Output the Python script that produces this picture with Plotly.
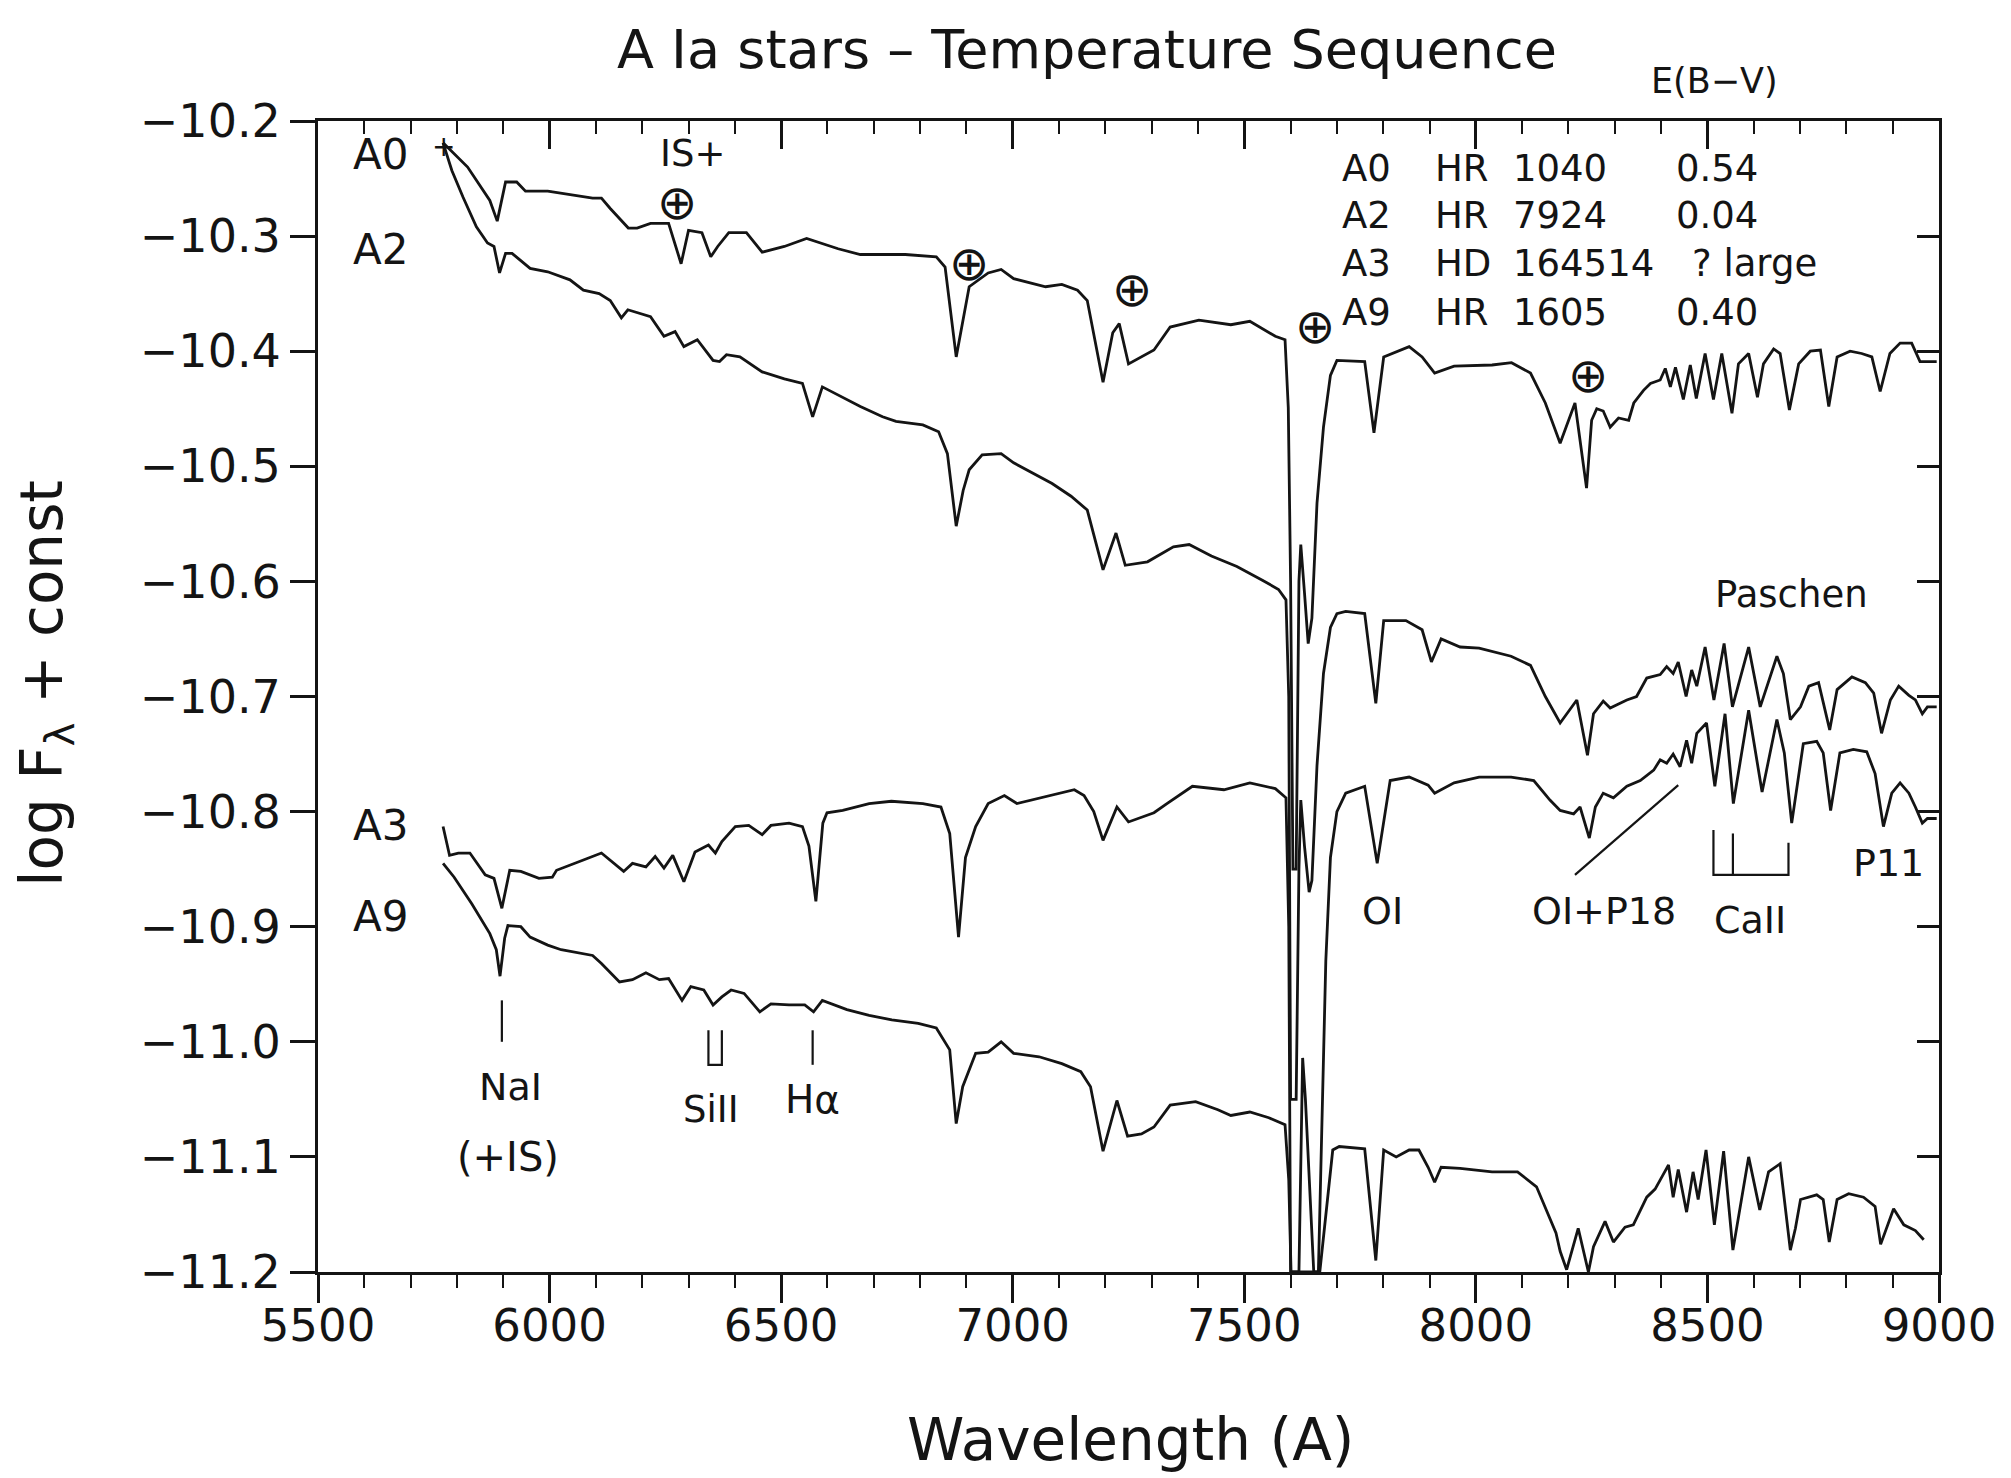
import plotly.graph_objects as go

# ---------------- data ----------------
a0_wavelength = [5770, 5823, 5871, 5887, 5905, 5929, 5948, 5996, 6093, 6112, 6131, 6170, 6189, 6218, 6257, 6284,
                 6300, 6329, 6348, 6363, 6387, 6425, 6459, 6507, 6555, 6623, 6671, 6768, 6835, 6854, 6878, 6906,
                 6947, 6975, 7002, 7071, 7106, 7140, 7161, 7195, 7216, 7230, 7250, 7277, 7305, 7340, 7402, 7471,
                 7512, 7567, 7588, 7595, 7600, 7605, 7612, 7618, 7622, 7630, 7638, 7646, 7657, 7671, 7686, 7700,
                 7760, 7780, 7801, 7856, 7884, 7911, 7953, 8035, 8077, 8118, 8150, 8182, 8214, 8239, 8250, 8261,
                 8275, 8290, 8308, 8330, 8341, 8362, 8377, 8398, 8409, 8420, 8431, 8448, 8463, 8476, 8495, 8513,
                 8531, 8553, 8567, 8589, 8608, 8621, 8643, 8657, 8677, 8697, 8722, 8744, 8762, 8780, 8808, 8833,
                 8855, 8873, 8894, 8916, 8941, 8959, 8970, 8995]
a0_logflux = [-10.219, -10.240, -10.269, -10.287, -10.253, -10.253, -10.261, -10.261, -10.267, -10.267, -10.276,
              -10.293, -10.293, -10.289, -10.289, -10.324, -10.295, -10.297, -10.318, -10.309, -10.297, -10.297,
              -10.314, -10.309, -10.302, -10.311, -10.316, -10.316, -10.318, -10.327, -10.405, -10.344, -10.332,
              -10.329, -10.337, -10.344, -10.342, -10.347, -10.356, -10.427, -10.384, -10.376, -10.411, -10.405,
              -10.399, -10.379, -10.373, -10.377, -10.374, -10.387, -10.390, -10.449, -10.600, -10.850, -10.850,
              -10.600, -10.568, -10.610, -10.654, -10.632, -10.532, -10.466, -10.421, -10.408, -10.409, -10.471,
              -10.405, -10.396, -10.405, -10.419, -10.413, -10.412, -10.410, -10.419, -10.445, -10.480, -10.445,
              -10.519, -10.460, -10.450, -10.452, -10.466, -10.458, -10.460, -10.445, -10.434, -10.428, -10.425,
              -10.415, -10.431, -10.414, -10.442, -10.412, -10.441, -10.402, -10.442, -10.402, -10.454, -10.411,
              -10.402, -10.440, -10.411, -10.398, -10.402, -10.451, -10.411, -10.400, -10.399, -10.448, -10.405,
              -10.400, -10.402, -10.405, -10.435, -10.402, -10.393, -10.393, -10.409, -10.409, -10.409]

a2_wavelength = [5770, 5789, 5813, 5842, 5866, 5880, 5892, 5905, 5919, 5958, 5996, 6044, 6073, 6107, 6131, 6155,
                 6169, 6218, 6247, 6271, 6290, 6319, 6353, 6367, 6382, 6411, 6459, 6507, 6546, 6568, 6589, 6633,
                 6671, 6719, 6748, 6806, 6840, 6859, 6878, 6893, 6906, 6934, 6975, 7002, 7044, 7085, 7126, 7161,
                 7195, 7223, 7243, 7291, 7347, 7381, 7429, 7484, 7539, 7574, 7590, 7596, 7600, 7612, 7618, 7622,
                 7630, 7640, 7646, 7657, 7671, 7686, 7700, 7719, 7760, 7784, 7801, 7849, 7884, 7904, 7925, 7966,
                 8007, 8076, 8118, 8150, 8182, 8218, 8241, 8254, 8275, 8290, 8326, 8347, 8369, 8398, 8412, 8426,
                 8437, 8454, 8466, 8477, 8495, 8514, 8536, 8554, 8589, 8614, 8650, 8664, 8679, 8701, 8719, 8740,
                 8764, 8780, 8812, 8841, 8859, 8876, 8895, 8913, 8935, 8949, 8964, 8975, 8995]
a2_logflux = [-10.219, -10.243, -10.266, -10.292, -10.306, -10.309, -10.332, -10.315, -10.315, -10.328, -10.331,
              -10.338, -10.347, -10.350, -10.356, -10.371, -10.364, -10.370, -10.387, -10.383, -10.396, -10.390,
              -10.408, -10.409, -10.403, -10.405, -10.418, -10.424, -10.428, -10.457, -10.431, -10.440, -10.448,
              -10.457, -10.461, -10.464, -10.470, -10.489, -10.552, -10.521, -10.503, -10.490, -10.489, -10.497,
              -10.506, -10.515, -10.526, -10.538, -10.590, -10.558, -10.586, -10.583, -10.570, -10.568, -10.578,
              -10.587, -10.599, -10.607, -10.616, -10.700, -11.050, -11.050, -10.850, -10.790, -10.830, -10.870,
              -10.860, -10.760, -10.680, -10.640, -10.628, -10.626, -10.628, -10.706, -10.634, -10.634, -10.642,
              -10.670, -10.650, -10.657, -10.658, -10.665, -10.673, -10.700, -10.723, -10.703, -10.751, -10.715,
              -10.704, -10.710, -10.703, -10.700, -10.684, -10.681, -10.674, -10.680, -10.670, -10.700, -10.677,
              -10.691, -10.657, -10.703, -10.654, -10.709, -10.657, -10.709, -10.665, -10.680, -10.720, -10.709,
              -10.691, -10.688, -10.729, -10.694, -10.683, -10.688, -10.697, -10.732, -10.703, -10.691, -10.699,
              -10.703, -10.715, -10.709, -10.709]

a3_wavelength = [5770, 5779, 5784, 5803, 5828, 5861, 5880, 5897, 5914, 5938, 5977, 6006, 6015, 6073, 6112, 6160,
                 6179, 6208, 6228, 6247, 6266, 6290, 6314, 6343, 6358, 6372, 6401, 6430, 6459, 6478, 6517, 6546,
                 6560, 6575, 6590, 6599, 6633, 6690, 6738, 6806, 6845, 6864, 6883, 6898, 6920, 6947, 6982, 7009,
                 7071, 7133, 7154, 7175, 7195, 7225, 7250, 7305, 7333, 7388, 7456, 7512, 7567, 7590, 7596, 7600,
                 7618, 7626, 7632, 7642, 7650, 7660, 7668, 7676, 7686, 7700, 7719, 7760, 7787, 7815, 7856, 7897,
                 7911, 7953, 8007, 8076, 8125, 8160, 8182, 8211, 8225, 8245, 8258, 8275, 8297, 8326, 8355, 8384,
                 8398, 8412, 8426, 8441, 8455, 8466, 8477, 8498, 8516, 8538, 8556, 8589, 8618, 8650, 8666, 8682,
                 8707, 8736, 8750, 8766, 8786, 8815, 8844, 8862, 8880, 8898, 8916, 8935, 8949, 8964, 8975, 8995]
a3_logflux = [-10.813, -10.828, -10.838, -10.836, -10.836, -10.855, -10.858, -10.884, -10.851, -10.852, -10.858,
              -10.857, -10.851, -10.842, -10.836, -10.852, -10.845, -10.848, -10.839, -10.849, -10.838, -10.861,
              -10.835, -10.829, -10.836, -10.826, -10.813, -10.812, -10.820, -10.812, -10.810, -10.813, -10.830,
              -10.878, -10.810, -10.801, -10.799, -10.793, -10.791, -10.793, -10.796, -10.819, -10.909, -10.840,
              -10.813, -10.793, -10.786, -10.793, -10.787, -10.781, -10.786, -10.800, -10.825, -10.796, -10.809,
              -10.801, -10.793, -10.778, -10.781, -10.775, -10.780, -10.788, -10.900, -11.200, -11.200, -11.014,
              -11.050, -11.137, -11.200, -11.200, -11.050, -10.930, -10.840, -10.800, -10.784, -10.778, -10.845,
              -10.773, -10.770, -10.777, -10.784, -10.775, -10.770, -10.770, -10.773, -10.790, -10.799, -10.802,
              -10.796, -10.823, -10.796, -10.784, -10.788, -10.778, -10.773, -10.764, -10.755, -10.758, -10.750,
              -10.761, -10.738, -10.758, -10.732, -10.723, -10.778, -10.715, -10.793, -10.712, -10.783, -10.720,
              -10.749, -10.810, -10.741, -10.739, -10.749, -10.799, -10.749, -10.746, -10.748, -10.767, -10.813,
              -10.784, -10.775, -10.784, -10.796, -10.810, -10.806, -10.806]

a9_wavelength = [5770, 5794, 5832, 5871, 5885, 5893, 5903, 5910, 5938, 5958, 5996, 6025, 6093, 6112, 6151, 6179,
                 6208, 6237, 6257, 6286, 6305, 6333, 6353, 6372, 6392, 6420, 6454, 6478, 6517, 6551, 6570, 6589,
                 6642, 6690, 6739, 6796, 6835, 6864, 6878, 6892, 6920, 6947, 6975, 7002, 7057, 7106, 7147, 7168,
                 7195, 7225, 7248, 7278, 7305, 7340, 7395, 7443, 7471, 7512, 7553, 7588, 7596, 7601, 7663, 7676,
                 7691, 7705, 7760, 7784, 7801, 7828, 7856, 7877, 7897, 7911, 7925, 7966, 8035, 8090, 8131, 8173,
                 8182, 8196, 8221, 8243, 8254, 8279, 8297, 8322, 8340, 8369, 8387, 8405, 8416, 8426, 8437, 8455,
                 8469, 8480, 8497, 8515, 8535, 8555, 8589, 8613, 8632, 8657, 8679, 8690, 8701, 8736, 8750, 8763,
                 8780, 8805, 8837, 8862, 8874, 8902, 8924, 8949, 8967]
a9_logflux = [-10.845, -10.857, -10.880, -10.906, -10.920, -10.943, -10.910, -10.899, -10.900, -10.909, -10.916,
              -10.920, -10.925, -10.932, -10.948, -10.946, -10.940, -10.946, -10.945, -10.964, -10.952, -10.955,
              -10.968, -10.961, -10.955, -10.958, -10.974, -10.967, -10.968, -10.968, -10.974, -10.964, -10.972,
              -10.977, -10.981, -10.984, -10.988, -11.007, -11.071, -11.039, -11.010, -11.009, -11.000, -11.010,
              -11.013, -11.019, -11.026, -11.039, -11.095, -11.051, -11.082, -11.080, -11.074, -11.055, -11.052,
              -11.059, -11.064, -11.061, -11.066, -11.072, -11.120, -11.200, -11.200, -11.150, -11.094, -11.091,
              -11.093, -11.190, -11.094, -11.100, -11.094, -11.094, -11.109, -11.122, -11.109, -11.110, -11.113,
              -11.113, -11.126, -11.166, -11.182, -11.198, -11.162, -11.200, -11.178, -11.156, -11.174, -11.161,
              -11.159, -11.135, -11.128, -11.115, -11.107, -11.135, -11.111, -11.148, -11.113, -11.137, -11.094,
              -11.159, -11.095, -11.181, -11.100, -11.146, -11.113, -11.106, -11.181, -11.162, -11.137, -11.133,
              -11.137, -11.174, -11.137, -11.132, -11.135, -11.143, -11.176, -11.145, -11.159, -11.164, -11.172]

x_tick_values = [5500, 6000, 6500, 7000, 7500, 8000, 8500, 9000]
y_tick_values = [-10.2, -10.3, -10.4, -10.5, -10.6, -10.7, -10.8, -10.9, -11.0, -11.1, -11.2]

star_types = ["A0", "A2", "A3", "A9"]
star_names = ["HR", "HR", "HD", "HR"]
star_numbers = ["1040", "7924", "164514", "1605"]
star_reddening = ["0.54", "0.04", "? large", "0.40"]

# ---------------- figure ----------------
FONT = "DejaVu Sans"
INK = "#141414"

fig = go.Figure()
for wl, fl in [(a0_wavelength, a0_logflux), (a2_wavelength, a2_logflux),
               (a3_wavelength, a3_logflux), (a9_wavelength, a9_logflux)]:
    fig.add_trace(go.Scatter(x=wl, y=fl, mode="lines", line=dict(color=INK, width=2.8),
                             showlegend=False, hoverinfo="skip"))
# empty trace to carry the mirrored (top/right) axes
fig.add_trace(go.Scatter(x=[], y=[], xaxis="x2", yaxis="y2", showlegend=False))

axis_common = dict(showgrid=False, zeroline=False, showline=True, linecolor=INK, linewidth=3,
                   tickcolor=INK, tickwidth=2.5)

fig.update_layout(
    width=2011, height=1478,
    margin=dict(l=318, r=72, t=121, b=206, pad=0),
    paper_bgcolor="white", plot_bgcolor="white",
    font=dict(family=FONT, color=INK),
    xaxis=dict(range=[5500, 9000], tickvals=x_tick_values, ticks="outside", ticklen=28,
               ticklabelstandoff=-16,
               minor=dict(dtick=100, tick0=5500, ticks="outside", ticklen=13, tickcolor=INK, tickwidth=2),
               tickfont=dict(size=45, family=FONT, color=INK), **axis_common),
    xaxis2=dict(range=[5500, 9000], overlaying="x", side="top", matches="x", tickvals=x_tick_values,
                ticks="inside", ticklen=28, showticklabels=False,
                minor=dict(dtick=100, tick0=5500, ticks="inside", ticklen=13, tickcolor=INK, tickwidth=2),
                **axis_common),
    yaxis=dict(range=[-11.2, -10.2], tickvals=y_tick_values, tickformat=".1f", ticks="outside", ticklen=25,
               tickfont=dict(size=46, family=FONT, color=INK), **axis_common),
    yaxis2=dict(range=[-11.2, -10.2], overlaying="y", side="right", matches="y", tickvals=y_tick_values,
                ticks="inside", ticklen=22, showticklabels=False, **axis_common),
)

ann = []


def txt(x, y, text, size=38, xref="x", yref="y", xanchor="center", yanchor="middle", angle=0):
    ann.append(dict(x=x, y=y, text=text, xref=xref, yref=yref, xanchor=xanchor, yanchor=yanchor,
                    showarrow=False, textangle=angle, font=dict(family=FONT, size=size, color=INK)))


# titles
txt(0.4744, 1.062, "A Ia stars – Temperature Sequence", size=54, xref="paper", yref="paper")
txt(0.8612, 1.035, "E(B−V)", size=35, xref="paper", yref="paper")
txt(0.5015, -0.146, "Wavelength (A)", size=58, xref="paper", yref="paper")
txt(-0.168, 0.5117, "log F<sub>λ</sub> + const", size=58, xref="paper", yref="paper", angle=-90)

# star labels at left
for name, yv in zip(star_types, [-10.229, -10.312, -10.812, -10.891]):
    txt(5634, yv, name, size=42)
txt(5772, -10.222, "+", size=28)

# table
row_y = [-10.241, -10.282, -10.324, -10.366]
for i in range(4):
    txt(7707, row_y[i], star_types[i], size=37, xanchor="left")
    txt(7908, row_y[i], star_names[i], size=37, xanchor="left")
    txt(8076, row_y[i], star_numbers[i], size=37, xanchor="left")
    txt(8428 if star_reddening[i] != "? large" else 8463, row_y[i], star_reddening[i], size=37, xanchor="left")

# telluric markers
txt(6309, -10.228, "IS+", size=37)
for xv, yv in [(6276, -10.270), (6906, -10.323), (7258, -10.346), (7652, -10.378), (8242, -10.421)]:
    txt(xv, yv, "⊕", size=48)

# line identifications
txt(8681, -10.611, "Paschen", size=37)
txt(8890, -10.845, "P11", size=38)
txt(8592, -10.894, "CaII", size=38)
txt(8277, -10.886, "OI+P18", size=38)
txt(7798, -10.886, "OI", size=38)
txt(5915, -11.039, "NaI", size=38)
txt(5910, -11.100, "(+IS)", size=40)
txt(6349, -11.059, "SiII", size=37)
txt(6567, -11.050, "Hα", size=39)

fig.update_layout(annotations=ann)

ln = dict(color=INK, width=2.2)
shapes = [
    dict(type="line", x0=5897, x1=5897, y0=-10.964, y1=-11.0, line=ln),
    dict(type="path", path="M 6343 -10.990 L 6343 -11.020 L 6372 -11.020 L 6372 -10.990", line=ln),
    dict(type="line", x0=6568, x1=6568, y0=-10.990, y1=-11.020, line=ln),
    dict(type="line", x0=8214, x1=8437, y0=-10.855, y1=-10.777, line=ln),
    dict(type="path", path="M 8513 -10.816 L 8513 -10.855 L 8675 -10.855 L 8675 -10.827", line=ln),
    dict(type="line", x0=8555, x1=8555, y0=-10.819, y1=-10.855, line=ln),
]
for s in shapes:
    s.update(xref="x", yref="y")
fig.update_layout(shapes=shapes)

fig.write_html("out.html")
